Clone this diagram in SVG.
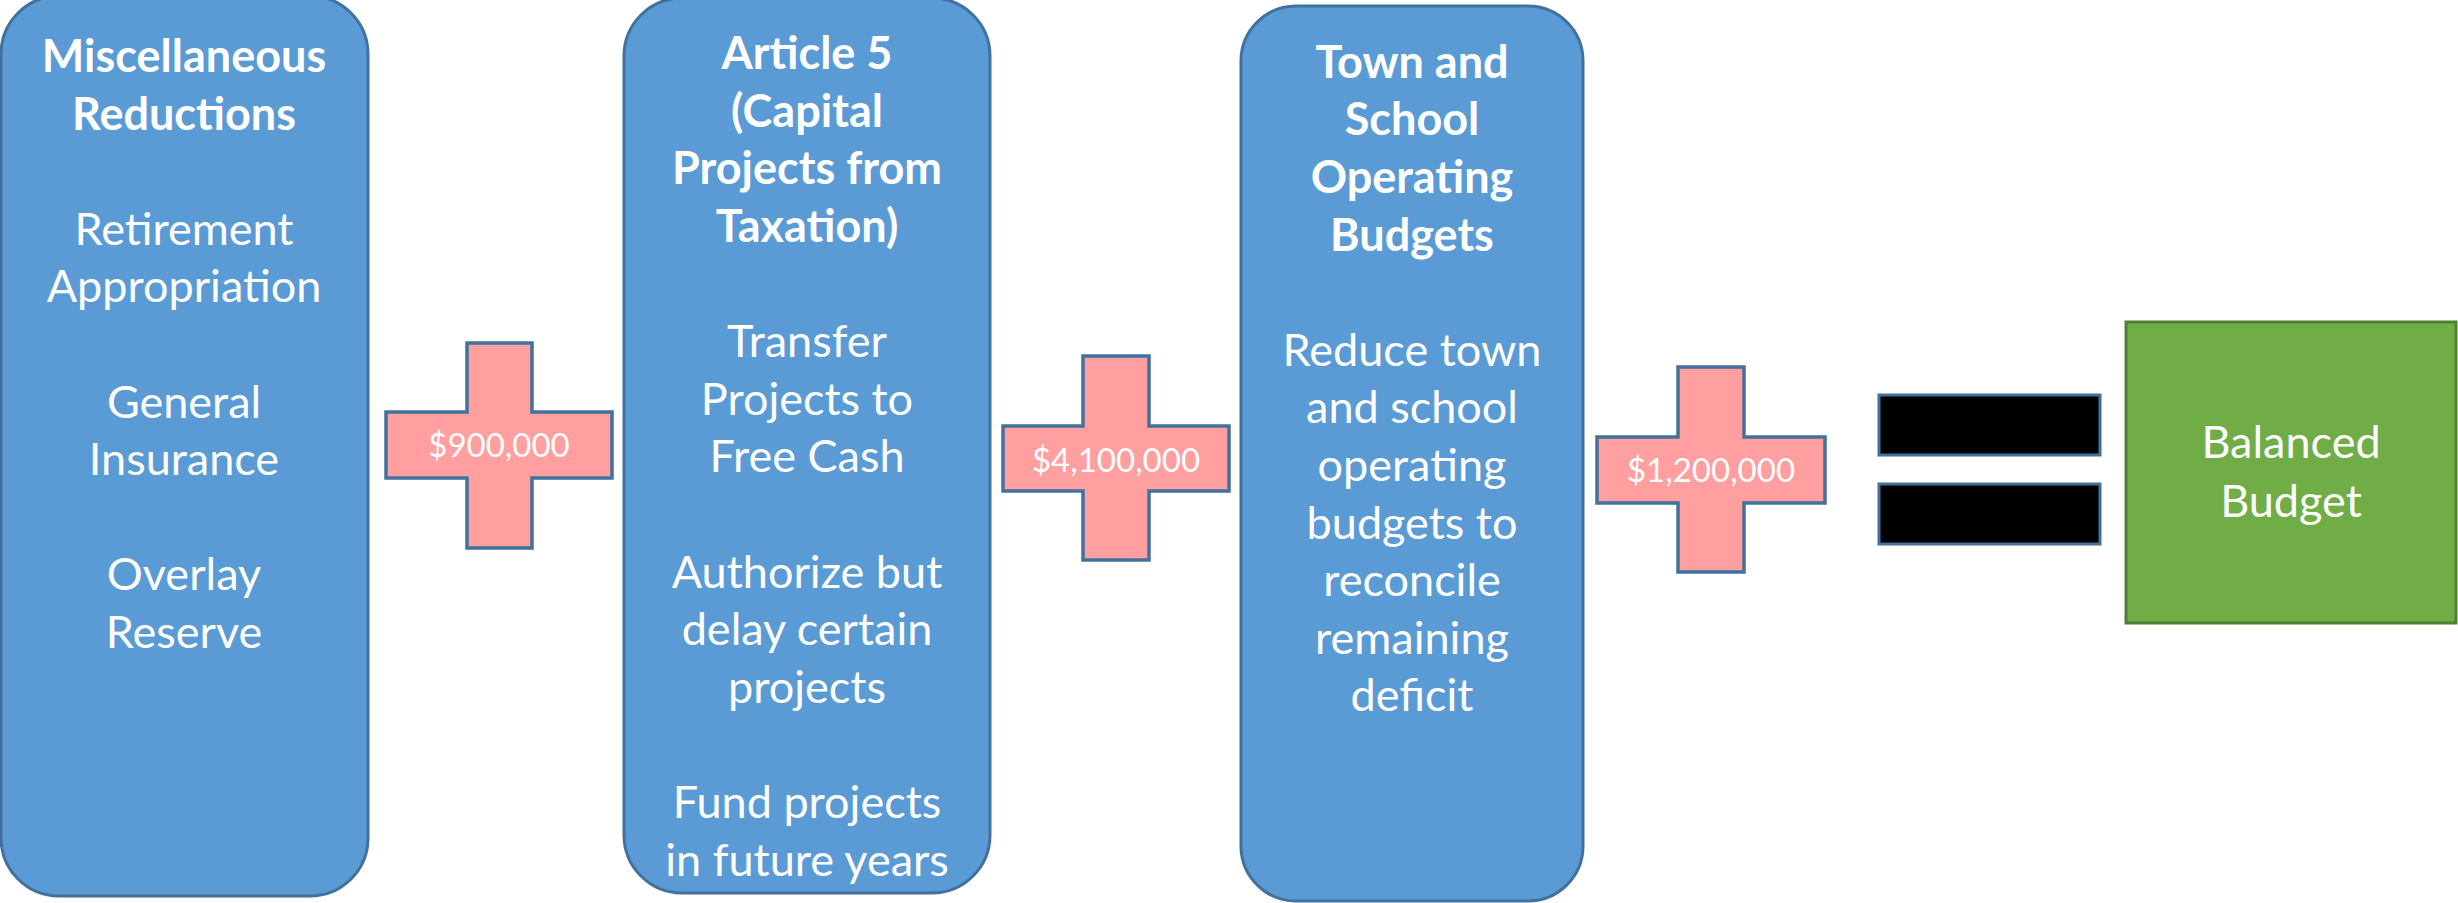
<svg xmlns="http://www.w3.org/2000/svg" width="2458" height="903" viewBox="0 0 2458 903">
<style>
.col{fill:#5B9BD5;stroke:#41719C;stroke-width:3}
.plus{fill:#FF9F9F;stroke:#41719C;stroke-width:3.5}
.bar{fill:#000000;stroke:#41719C;stroke-width:3}
.res{fill:#70AD47;stroke:#507E32;stroke-width:3}
text{font-family:Lato,"Open Sans","Liberation Sans",sans-serif;fill:#FFFFFF;text-anchor:middle}
.h{font-size:45px;font-weight:bold}
.b{font-size:45px}
.amt{font-size:33px}
</style>
<rect width="2458" height="903" fill="#FFFFFF"/>
<g id="misc">
<rect class="col" x="1" y="-4" width="367" height="900" rx="58" ry="58"/>
<text class="h" x="184" y="72">Miscellaneous</text>
<text class="h" x="184" y="130">Reductions</text>
<text class="b" x="184" y="245">Retirement</text>
<text class="b" x="184" y="302">Appropriation</text>
<text class="b" x="184" y="418">General</text>
<text class="b" x="184" y="475">Insurance</text>
<text class="b" x="184" y="590">Overlay</text>
<text class="b" x="184" y="648">Reserve</text>
</g>
<g id="plus1">
<path class="plus" d="M467,343 H532 V412 H612 V478 H532 V548 H467 V478 H386 V412 H467 Z"/>
<text class="amt" x="499" y="457">$900,000</text>
</g>
<g id="article5">
<rect class="col" x="624" y="-2" width="366" height="895" rx="58" ry="58"/>
<text class="h" x="807" y="69">Article 5</text>
<text class="h" x="807" y="127">(Capital</text>
<text class="h" x="807" y="184">Projects from</text>
<text class="h" x="807" y="242">Taxation)</text>
<text class="b" x="807" y="357">Transfer</text>
<text class="b" x="807" y="415">Projects to</text>
<text class="b" x="807" y="472">Free Cash</text>
<text class="b" x="807" y="588">Authorize but</text>
<text class="b" x="807" y="645">delay certain</text>
<text class="b" x="807" y="703">projects</text>
<text class="b" x="807" y="818">Fund projects</text>
<text class="b" x="807" y="876">in future years</text>
</g>
<g id="plus2">
<path class="plus" d="M1083,356 H1149 V426 H1229 V491 H1149 V560 H1083 V491 H1003 V426 H1083 Z"/>
<text class="amt" x="1116" y="472">$4,100,000</text>
</g>
<g id="operating">
<rect class="col" x="1241" y="6" width="342" height="895" rx="55" ry="55"/>
<text class="h" x="1412" y="78">Town and</text>
<text class="h" x="1412" y="135">School</text>
<text class="h" x="1412" y="193">Operating</text>
<text class="h" x="1412" y="251">Budgets</text>
<text class="b" x="1412" y="366">Reduce town</text>
<text class="b" x="1412" y="423">and school</text>
<text class="b" x="1412" y="481">operating</text>
<text class="b" x="1412" y="539">budgets to</text>
<text class="b" x="1412" y="596">reconcile</text>
<text class="b" x="1412" y="654">remaining</text>
<text class="b" x="1412" y="711">deficit</text>
</g>
<g id="plus3">
<path class="plus" d="M1678,367 H1744 V437 H1825 V503 H1744 V572 H1678 V503 H1597 V437 H1678 Z"/>
<text class="amt" x="1711" y="482">$1,200,000</text>
</g>
<g id="equals">
<rect class="bar" x="1879" y="395" width="221" height="60"/>
<rect class="bar" x="1879" y="484" width="221" height="60"/>
</g>
<g id="balanced">
<rect class="res" x="2126" y="322" width="330" height="301"/>
<text class="b" x="2291" y="458">Balanced</text>
<text class="b" x="2291" y="517">Budget</text>
</g>
</svg>
